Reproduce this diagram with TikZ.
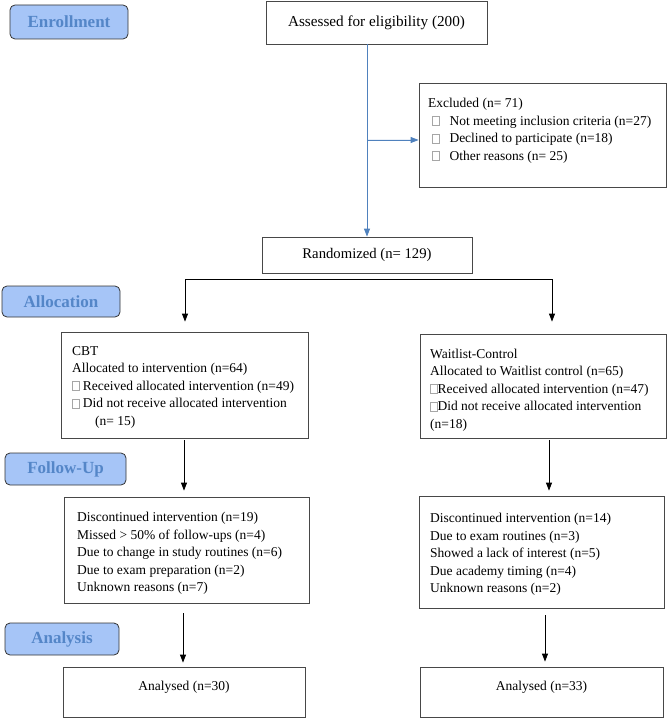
\documentclass[tikz,border=0pt]{standalone}
\usepackage{fontspec}
\setmainfont{Liberation Serif}
\usetikzlibrary{arrows.meta}
\definecolor{lblfill}{RGB}{166,197,247}
\definecolor{lbltext}{RGB}{84,134,200}
\definecolor{flowblue}{RGB}{79,129,189}
\definecolor{boxline}{RGB}{72,72,72}
\newcommand\tofu{{\color{black!35}\setlength\fboxrule{0.4pt}\setlength\fboxsep{0pt}\fbox{\rule{0pt}{8.5pt}\rule{6.5pt}{0pt}}}}
\begin{document}
\begin{tikzpicture}[x=1pt,y=-1pt,
  box/.style={draw=boxline, line width=0.8pt, inner sep=0pt, font=\fontsize{13.5}{17.5}\selectfont},
  lbl/.style={draw=black!80, line width=0.8pt, rounded corners=5pt, fill=lblfill, text=lbltext,
    font=\fontsize{17}{20}\selectfont\bfseries, inner sep=0pt},
  txt/.style={font=\fontsize{13.5}{17.5}\selectfont, align=left, inner sep=0pt, anchor=north west},
  arr/.style={-{Triangle[width=6pt,length=8pt]}, line width=0.8pt, draw=black},
  barr/.style={-{Triangle[width=6pt,length=8pt]}, line width=0.9pt, draw=flowblue, fill=flowblue}]
\useasboundingbox (0,0) rectangle (669,719);

% phase labels
\node[lbl, minimum width=118pt, minimum height=34pt] (enr) at (69,22) {Enrollment};
\node[lbl, minimum width=118pt, minimum height=31pt] (alloc) at (61,301.5) {Allocation};
\node[lbl, minimum width=121pt, minimum height=32pt] (fu) at (65.5,469) {Follow-Up};
\node[lbl, minimum width=114pt, minimum height=32pt] (ana) at (62,639) {Analysis};

% boxes
\node[box, minimum width=221pt, minimum height=43pt, font=\fontsize{15.2}{18}\selectfont] (assess) at (376.5,22.5) {Assessed for eligibility (200)};
\node[box, minimum width=247pt, minimum height=104pt] (excl) at (542.5,135) {};
\node[txt] (excltxt) at (428,98) {Excluded (n= 71)\\
  \hspace*{4pt}\tofu\hspace*{10pt}Not meeting inclusion criteria (n=27)\\
  \hspace*{4pt}\tofu\hspace*{10pt}Declined to participate (n=18)\\
  \hspace*{4pt}\tofu\hspace*{10pt}Other reasons (n= 25)};
\node[box, minimum width=210pt, minimum height=36pt, font=\fontsize{14.7}{18}\selectfont] (rand) at (367,255) {Randomized (n= 129)};

\node[box, minimum width=247pt, minimum height=106pt] (cbt) at (184.5,385) {};
\node[txt] (cbttxt) at (72,346) {CBT\\
  Allocated to intervention (n=64)\\
  \tofu\ Received allocated intervention (n=49)\\
  \tofu\ Did not receive allocated intervention\\
  \hspace*{23pt}(n= 15)};
\node[box, minimum width=246pt, minimum height=104pt] (wl) at (543,386) {};
\node[txt] (wltxt) at (430,348.5) {Waitlist-Control\\
  Allocated to Waitlist control (n=65)\\
  \tofu Received allocated intervention (n=47)\\
  \tofu Did not receive allocated intervention\\
  (n=18)};

\node[box, minimum width=245pt, minimum height=106pt] (cbtfu) at (186.5,550) {};
\node[txt] (cbtfutxt) at (77,512) {Discontinued intervention (n=19)\\
  Missed > 50\% of follow-ups (n=4)\\
  Due to change in study routines (n=6)\\
  Due to exam preparation (n=2)\\
  Unknown reasons (n=7)};
\node[box, minimum width=245pt, minimum height=112pt] (wlfu) at (541.5,552) {};
\node[txt] (wlfutxt) at (430,513) {Discontinued intervention (n=14)\\
  Due to exam routines (n=3)\\
  Showed a lack of interest (n=5)\\
  Due academy timing (n=4)\\
  Unknown reasons (n=2)};

\node[box, minimum width=242pt, minimum height=50pt] (anal) at (184,692) {};
\node[font=\fontsize{13.5}{17.5}\selectfont, inner sep=0pt] (analtxt) at (184,687) {Analysed (n=30)};
\node[box, minimum width=243pt, minimum height=50pt] (anar) at (541.5,692) {};
\node[font=\fontsize{13.5}{17.5}\selectfont, inner sep=0pt] (anartxt) at (541.5,687) {Analysed (n=33)};

% blue enrollment flow
\draw[barr] (assess.south -| rand.north) -- (rand.north);
\coordinate (bx) at (367,140);
\draw[barr] (bx) -- (bx -| excl.west);

% split
\coordinate (jl) at (185,279);
\coordinate (jr) at (552,279);
\draw[line width=0.8pt] (jl) -- (jr);
\draw[arr, shorten >=10pt] (jl) -- (jl |- cbt.north);
\draw[arr, shorten >=12pt] (jr) -- (jr |- wl.north);

% follow-up
\coordinate (c1) at (184,440);
\draw[arr, shorten >=6pt] (c1) -- (c1 |- cbtfu.north);
\coordinate (w1) at (549,440);
\draw[arr, shorten >=5pt] (w1) -- (w1 |- wlfu.north);

% analysis
\coordinate (c2) at (183,613);
\draw[arr, shorten >=4pt] (c2) -- (c2 |- anal.north);
\coordinate (w2) at (545,615);
\draw[arr, shorten >=5pt] (w2) -- (w2 |- anar.north);
\end{tikzpicture}
\end{document}
